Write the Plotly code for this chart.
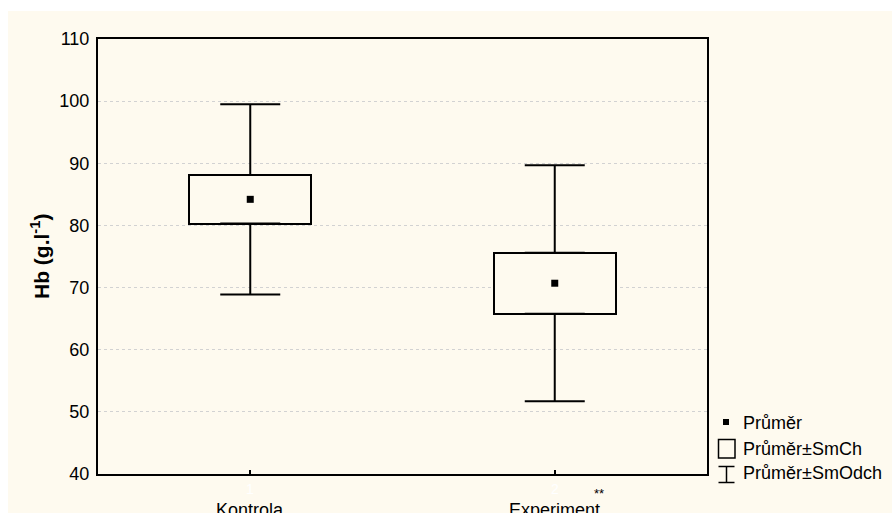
import plotly.graph_objects as go

# Hemoglobin by group: mean, standard error and standard deviation
groups = ["Kontrola", "Experiment"]
group_pos = [1, 2]
means = [84.2, 70.7]
se = [3.9, 4.9]
sd = [15.3, 19.0]

y_ticks = [40, 50, 60, 70, 80, 90, 100, 110]

W, H = 892, 513
L, R, T, B = 98, 707, 39, 474   # plot area in pixels
FONT = "Liberation Sans, Arial, sans-serif"
FS = 18
CREAM = "#FEFAEF"
INK = "#000000"


def px(xp):
    return (xp - L) / (R - L)


def py(yp):
    return (B - yp) / (B - T)


fig = go.Figure()

# mean ± SE as boxes
fig.add_trace(go.Bar(
    x=group_pos,
    y=[2 * s for s in se],
    base=[m - s for m, s in zip(means, se)],
    width=0.4,
    marker=dict(color=CREAM, line=dict(color=INK, width=2)),
    showlegend=False, hoverinfo="skip",
))

# whiskers from the box edges to mean ± SD
fig.add_trace(go.Scatter(
    x=group_pos,
    y=[m + s for m, s in zip(means, se)],
    mode="markers", marker=dict(size=1, opacity=0),
    error_y=dict(type="data", symmetric=False,
                 array=[d - s for d, s in zip(sd, se)],
                 arrayminus=[0, 0],
                 width=30, thickness=2, color=INK),
    showlegend=False, hoverinfo="skip",
))
fig.add_trace(go.Scatter(
    x=group_pos,
    y=[m - s for m, s in zip(means, se)],
    mode="markers", marker=dict(size=1, opacity=0),
    error_y=dict(type="data", symmetric=False,
                 array=[0, 0],
                 arrayminus=[d - s for d, s in zip(sd, se)],
                 width=30, thickness=2, color=INK),
    showlegend=False, hoverinfo="skip",
))

# means
fig.add_trace(go.Scatter(
    x=group_pos, y=means, mode="markers",
    marker=dict(symbol="square", size=7, color=INK, line=dict(width=0)),
    showlegend=False, hoverinfo="skip",
))

shapes = [
    # cream page panel
    dict(type="rect", xref="paper", yref="paper", layer="below",
         x0=px(8), x1=px(W + 5), y0=py(H + 5), y1=py(11),
         fillcolor=CREAM, line=dict(width=0)),
    # legend glyphs
    dict(type="rect", xref="paper", yref="paper",
         x0=px(723), x1=px(729), y0=py(425), y1=py(419),
         fillcolor=INK, line=dict(width=0)),
    dict(type="rect", xref="paper", yref="paper",
         x0=px(718.5), x1=px(735), y0=py(458), y1=py(439.5),
         fillcolor="rgba(0,0,0,0)", line=dict(color=INK, width=1.5)),
    dict(type="line", xref="paper", yref="paper",
         x0=px(726.5), x1=px(726.5), y0=py(482.5), y1=py(466.5),
         line=dict(color=INK, width=1.5)),
    dict(type="line", xref="paper", yref="paper",
         x0=px(718.5), x1=px(734.5), y0=py(466.5), y1=py(466.5),
         line=dict(color=INK, width=1.5)),
    dict(type="line", xref="paper", yref="paper",
         x0=px(718.5), x1=px(734.5), y0=py(482.5), y1=py(482.5),
         line=dict(color=INK, width=1.5)),
]

annotations = []
legend_items = [("Průměr", 423), ("Průměr±SmCh", 449), ("Průměr±SmOdch", 472.5)]
for label, yc in legend_items:
    annotations.append(dict(
        text=label, xref="paper", yref="paper", x=px(741), y=py(yc),
        xanchor="left", yanchor="middle", showarrow=False,
        font=dict(family=FONT, size=FS, color=INK)))

# category labels (with faint numeric index above)
for g, xpos in zip(groups, group_pos):
    annotations.append(dict(
        text=str(xpos), xref="x", yref="paper", x=xpos, y=py(489),
        xanchor="center", yanchor="middle", showarrow=False,
        font=dict(family=FONT, size=14, color="#FFFFFF")))
    annotations.append(dict(
        text=g, xref="x", yref="paper", x=xpos, y=py(510),
        xanchor="center", yanchor="middle", showarrow=False,
        font=dict(family=FONT, size=FS, color=INK)))
annotations.append(dict(
    text="**", xref="x", yref="paper", x=2, y=py(493), xshift=37,
    xanchor="left", yanchor="middle", showarrow=False,
    font=dict(family=FONT, size=13, color=INK)))

# y-axis title
annotations.append(dict(
    text="<b>Hb (g.l<sup>-1</sup>)</b>", xref="paper", yref="paper",
    x=px(40), y=py(257), textangle=-90, xanchor="center", yanchor="middle",
    showarrow=False, font=dict(family=FONT, size=21, color=INK)))

fig.update_layout(
    width=W, height=H,
    margin=dict(l=L, r=W - R, t=T, b=H - B),
    paper_bgcolor="#FFFFFF",
    plot_bgcolor="rgba(0,0,0,0)",
    showlegend=False,
    bargap=0,
    shapes=shapes,
    annotations=annotations,
    xaxis=dict(
        range=[0.5, 2.5], tickvals=group_pos, showticklabels=False,
        ticks="inside", ticklen=4, tickwidth=1.5, tickcolor=INK,
        showgrid=False, zeroline=False,
        showline=True, linecolor=INK, linewidth=2, mirror=True,
    ),
    yaxis=dict(
        range=[40, 110], tickvals=y_ticks,
        ticks="", showgrid=True, gridcolor="#D2D2D2", griddash="dot",
        gridwidth=1, zeroline=False,
        showline=True, linecolor=INK, linewidth=2, mirror=True,
        tickfont=dict(family=FONT, size=FS, color=INK),
        ticklabelstandoff=3,
    ),
)

fig.write_html("out.html")
